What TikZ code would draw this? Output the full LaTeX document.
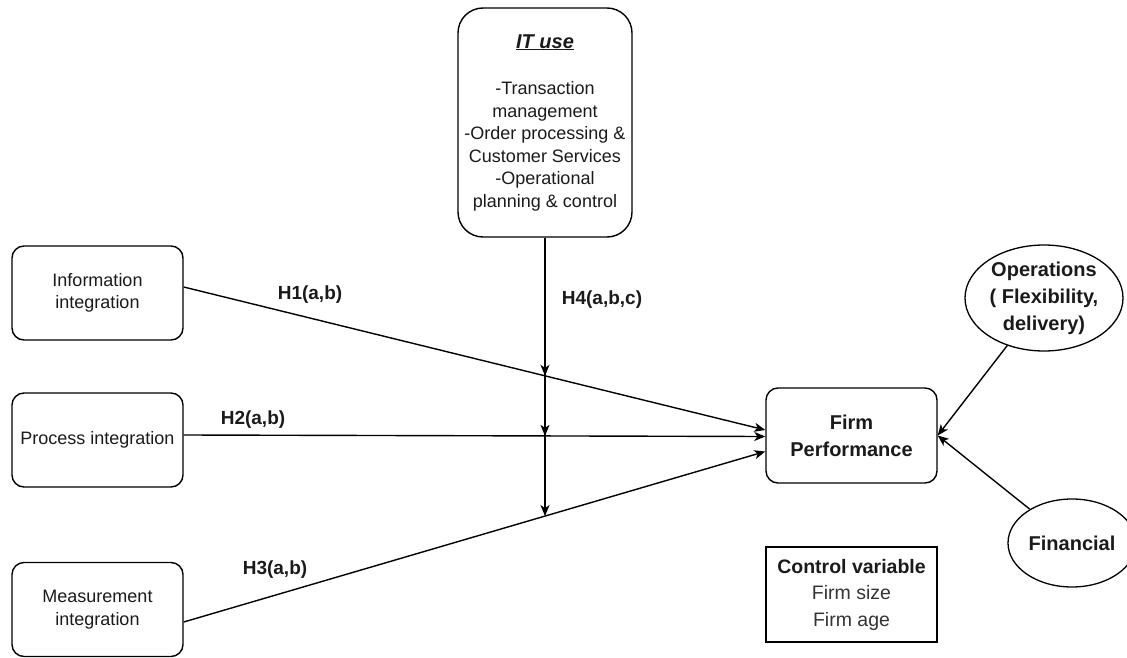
\documentclass[tikz,border=0pt]{standalone}
\usepackage{fontspec}
\setmainfont{Liberation Sans}
\usetikzlibrary{arrows.meta,calc,shapes.geometric}
\definecolor{txt}{HTML}{1A1A1A}
\definecolor{soft}{HTML}{333333}
\begin{document}
\begin{tikzpicture}[x=1pt,y=-1pt,
  box/.style={draw, line width=1.4pt, rounded corners=12pt, minimum width=171pt, minimum height=94pt,
    align=center, inner sep=0pt, text=txt, font=\fontsize{18}{22.5}\selectfont},
  ell/.style={draw, ellipse, line width=1.3pt, inner sep=0pt, align=center, text=txt,
    font=\fontsize{20}{27}\selectfont\bfseries},
  conn/.style={line width=1.4pt, -{Stealth[length=11pt,width=9pt,inset=3pt]}},
  hyp/.style={font=\fontsize{19}{23}\selectfont\bfseries, inner sep=0pt, text=txt}
]
\useasboundingbox (0,0) rectangle (1127,658);

% IT use
\node[box, minimum width=174pt, minimum height=229pt, rounded corners=25pt] (it) at (545,122.5)
  {{\fontsize{20}{24}\selectfont\bfseries\itshape\underline{IT use}}\\[24pt]
   -Transaction\\ management\\ -Order processing \&\\ Customer Services\\ -Operational\\ planning \& control};

% left boxes
\node[box] (info) at (97.5,293) {Information\\ integration};
\node[box] (proc) at (97.5,440) {Process integration};
\node[box] (meas) at (97.5,609.5) {Measurement\\ integration};

% firm performance
\node[box, minimum height=95pt, font=\fontsize{20}{27}\selectfont\bfseries] (firm) at (851.5,435.5) {Firm\\ Performance};

% control variable
\node[draw, line width=2pt, minimum width=171pt, minimum height=95pt, align=center, inner sep=0pt,
  font=\fontsize{19.5}{26.5}\selectfont] (ctrl) at (851.5,594.5)
  {\textbf{\color{txt}Control variable}\\ \color{soft}Firm size\\ \color{soft}Firm age};

% ellipses
\node[ell, minimum width=158pt, minimum height=106pt] (ops) at (1044,298) {Operations\\ ( Flexibility,\\ delivery)};
\node[ell, minimum width=128pt, minimum height=88pt] (fin) at (1072,543) {Financial};

% hypothesis lines
\coordinate (h1s) at ([yshift=6pt]info.east);
\coordinate (h1e) at ([yshift=5.5pt]firm.west);
\coordinate (h2s) at ([yshift=5pt]proc.east);
\coordinate (h2e) at ([yshift=-1pt]firm.west);
\coordinate (h3s) at ([yshift=-12.5pt]meas.east);
\coordinate (h3e) at ([yshift=-16pt]firm.west);

\draw[conn] (h1s) -- (h1e);
\draw[conn] (h2s) -- (h2e);
\draw[conn] (h3s) -- (h3e);

\coordinate (m1) at ($(h1s)!0.621!(h1e)$);
\coordinate (m2) at ($(h2s)!0.621!(h2e)$);
\coordinate (m3) at ($(h3s)!0.621!(h3e)$);

\draw[conn] (it.south) -- (it.south |- m1);
\draw[conn] (it.south) -- (it.south |- m2);
\draw[conn] (it.south) -- (it.south |- m3);

% moderators of performance
\draw[conn] (ops) -- (firm.east);
\draw[conn] (fin) -- (firm.east);

% labels
\node[hyp] (l1) at (310,295) {H1(a,b)};
\node[hyp] (l2) at (253,420) {H2(a,b)};
\node[hyp] (l3) at (275,570) {H3(a,b)};
\node[hyp] (l4) at (602,300) {H4(a,b,c)};
\end{tikzpicture}
\end{document}
